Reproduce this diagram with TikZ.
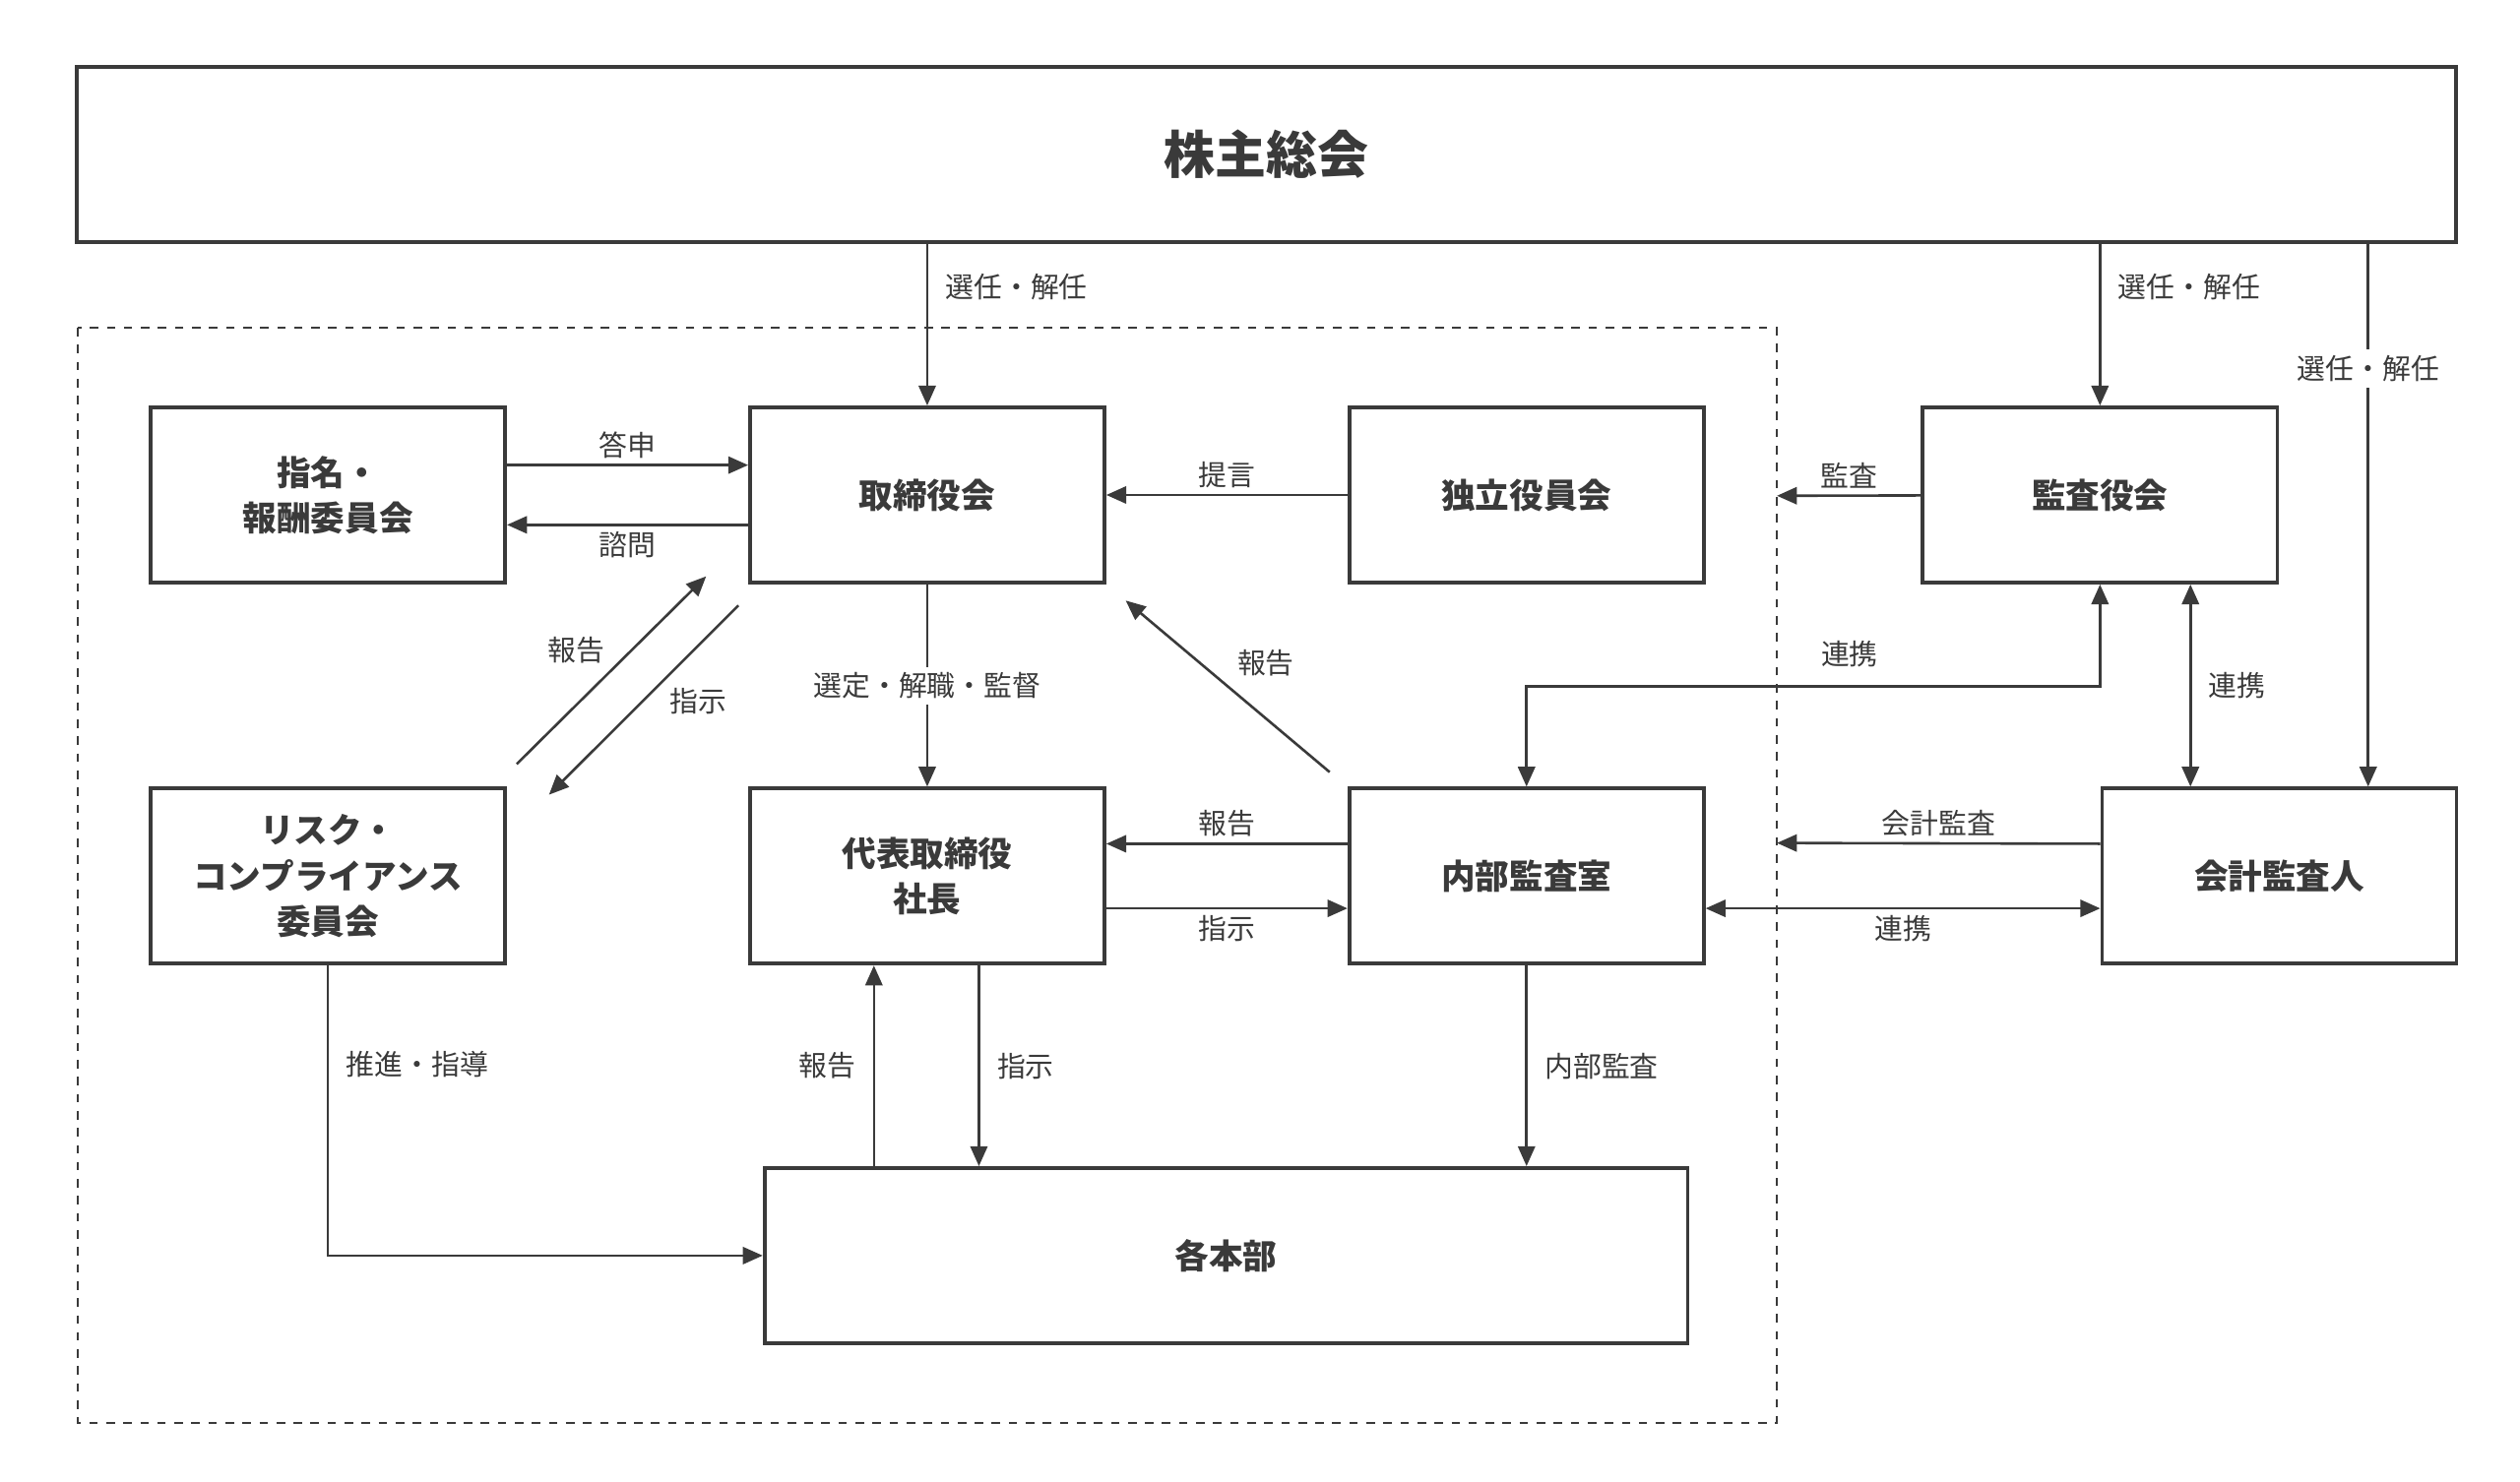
\documentclass[tikz,border=0pt]{standalone}
\usepackage{fontspec}
\setmainfont{Noto Sans CJK JP}
\usetikzlibrary{arrows.meta}
\definecolor{ink}{HTML}{3A3A3A}
\tikzset{
  box/.style={draw=ink, line width=1.3pt, minimum width=4.39cm, minimum height=2.17cm, align=center, font=\fontsize{12}{16}\selectfont\bfseries, text=ink},
  arr/.style={-{Triangle[length=7pt,width=6pt]}, line width=0.9pt, draw=ink},
  dar/.style={{Triangle[length=7pt,width=6pt]}-{Triangle[length=7pt,width=6pt]}, line width=0.9pt, draw=ink},
  lbl/.style={font=\fontsize{10}{12}\selectfont, text=ink, inner sep=2pt}
}
\begin{document}
\begin{tikzpicture}[x=0.02cm, y=-0.02cm]
\useasboundingbox (0,0) rectangle (1560,917.6);
\node[box, minimum width=29.47cm, font=\fontsize{18}{20}\selectfont\bfseries] (soukai) at (784,95.5) {株主総会};
\draw[ink, dashed, line width=0.8pt] (48,203) rectangle (1100,881);
\node[box] (shimei) at (203,306.5) {指名・\\報酬委員会};
\node[box] (tori) at (574,306.5) {取締役会};
\node[box] (dokuritsu) at (945,306.5) {独立役員会};
\node[box] (kansayaku) at (1300,306.5) {監査役会};
\node[box] (risk) at (203,542.5) {リスク・\\コンプライアンス\\委員会};
\node[box] (shacho) at (574,542.5) {代表取締役\\社長};
\node[box] (naibu) at (945,542.5) {内部監査室};
\node[box] (kaikei) at (1411,542.5) {会計監査人};
\node[box, minimum width=11.43cm] (honbu) at (759,777.5) {各本部};
\coordinate (edge1) at (1100,307);
\coordinate (edge2) at (1100,522);
% 株主総会から
\draw[arr] (soukai.south -| tori) -- (tori) node[lbl, pos=0.27, right=4pt] {選任・解任};
\draw[arr] (soukai.south -| kansayaku) -- (kansayaku) node[lbl, pos=0.27, right=4pt] {選任・解任};
\draw[arr] (soukai.south -| 1466,0) -- (kaikei.north -| 1466,0) node[lbl, fill=white, pos=0.23] {選任・解任};
% 取締役会まわり
\draw[arr] ([yshift=.37cm]shimei.east) -- ([yshift=.37cm]tori.west) node[lbl, midway, above] {答申};
\draw[arr] ([yshift=-.37cm]tori.west) -- ([yshift=-.37cm]shimei.east) node[lbl, midway, below] {諮問};
\draw[arr] (dokuritsu) -- (tori) node[lbl, midway, above] {提言};
\draw[arr] (kansayaku) -- (edge1) node[lbl, midway, above] {監査};
\draw[arr] ([shift={(0.12cm,0.28cm)}]risk.north east) -- ([shift={(-0.52cm,0.1cm)}]tori.south west) node[lbl, pos=0.5, above left] {報告};
\draw[arr] ([shift={(-0.12cm,-0.26cm)}]tori.south west) -- ([shift={(0.52cm,-0.1cm)}]risk.north east) node[lbl, pos=0.4, below right] {指示};
\draw[arr] (tori) -- (shacho) node[lbl, fill=white, midway] {選定・解職・監督};
\draw[arr] ([shift={(-0.22cm,0.18cm)}]naibu.north west) -- ([shift={(0.24cm,-0.2cm)}]tori.south east) node[lbl, pos=0.5, above right=1pt] {報告};
% 内部監査室まわり
\draw[arr] ([yshift=.4cm]naibu.west) -- ([yshift=.4cm]shacho.east) node[lbl, midway, above] {報告};
\draw[arr] ([yshift=-.4cm]shacho.east) -- ([yshift=-.4cm]naibu.west) node[lbl, midway, below] {指示};
\draw[dar] (kansayaku) |- (945,425) -- (naibu);
\node[lbl] at (1145,405) {連携};
\draw[dar] (kansayaku.south -| 1356,0) -- (kaikei.north -| 1356,0) node[lbl, midway, right=4pt] {連携};
\draw[arr] ([yshift=.4cm]kaikei.west) -- (edge2) node[lbl, midway, above] {会計監査};
\draw[dar] ([yshift=-.4cm]naibu.east) -- ([yshift=-.4cm]kaikei.west) node[lbl, midway, below] {連携};
% 各本部へ
\draw[arr] (risk) |- (honbu) node[lbl, pos=0.17, right=4pt] {推進・指導};
\draw[arr] (honbu.north -| 541,0) -- (shacho.south -| 541,0) node[lbl, midway, left=4pt] {報告};
\draw[arr] (shacho.south -| 606,0) -- (honbu.north -| 606,0) node[lbl, midway, right=4pt] {指示};
\draw[arr] (naibu) -- (honbu.north -| naibu) node[lbl, midway, right=4pt] {内部監査};
\end{tikzpicture}
\end{document}
